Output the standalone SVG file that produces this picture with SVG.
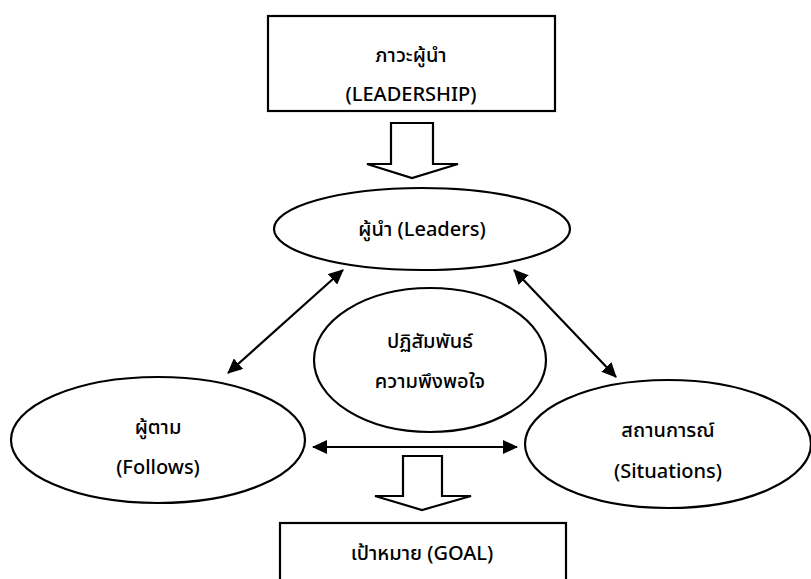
<svg xmlns="http://www.w3.org/2000/svg" width="811" height="579" viewBox="0 0 811 579">
<defs>
<style>
.s{fill:#fff;stroke:#000;stroke-width:2.2}
.t{font-family:"Noto Sans","Noto Sans Thai","Leelawadee UI",Tahoma,sans-serif;font-size:20px;font-weight:500;fill:#000;text-anchor:middle}
.c{fill:none;stroke:#000;stroke-width:2.2}
</style>
<marker id="ah" viewBox="0 0 15 14" refX="14" refY="7" markerWidth="15" markerHeight="14" markerUnits="userSpaceOnUse" orient="auto-start-reverse">
<path d="M0,0 L15,7 L0,14 Z" fill="#000"/>
</marker>
</defs>
<rect width="811" height="579" fill="#fff"/>
<g id="leadership">
<rect class="s" x="268" y="16" width="287" height="95"/>
<text class="t" x="411" y="62">ภาวะผู้นำ</text>
<text class="t" x="411" y="101">(LEADERSHIP)</text>
</g>
<g id="leaders">
<ellipse class="s" cx="422" cy="229" rx="148" ry="41"/>
<text class="t" x="422" y="236">ผู้นำ (Leaders)</text>
</g>
<g id="interaction">
<ellipse class="s" cx="430" cy="360" rx="116" ry="72"/>
<text class="t" x="430" y="348">ปฏิสัมพันธ์</text>
<text class="t" x="430" y="388">ความพึงพอใจ</text>
</g>
<g id="follows">
<ellipse class="s" cx="158" cy="440" rx="147" ry="63"/>
<text class="t" x="158" y="434">ผู้ตาม</text>
<text class="t" x="158" y="474">(Follows)</text>
</g>
<g id="situations">
<ellipse class="s" cx="668" cy="444" rx="143" ry="64"/>
<text class="t" x="668" y="437">สถานการณ์</text>
<text class="t" x="668" y="478">(Situations)</text>
</g>
<g id="goal">
<rect class="s" x="280" y="523" width="286" height="70"/>
<text class="t" x="422" y="560">เป้าหมาย (GOAL)</text>
</g>
<g id="connectors">
<path class="s" d="M391,123 H433 V164 H458 L412,178 L367,164 H391 Z"/>
<path class="s" d="M403,456 H442 V496 H471 L422,510 L375,496 H403 Z"/>
<line class="c" x1="343" y1="270" x2="228" y2="373" marker-start="url(#ah)" marker-end="url(#ah)"/>
<line class="c" x1="514" y1="270" x2="616" y2="377" marker-start="url(#ah)" marker-end="url(#ah)"/>
<line class="c" x1="313" y1="447" x2="517" y2="447" marker-start="url(#ah)" marker-end="url(#ah)"/>
</g>
</svg>
